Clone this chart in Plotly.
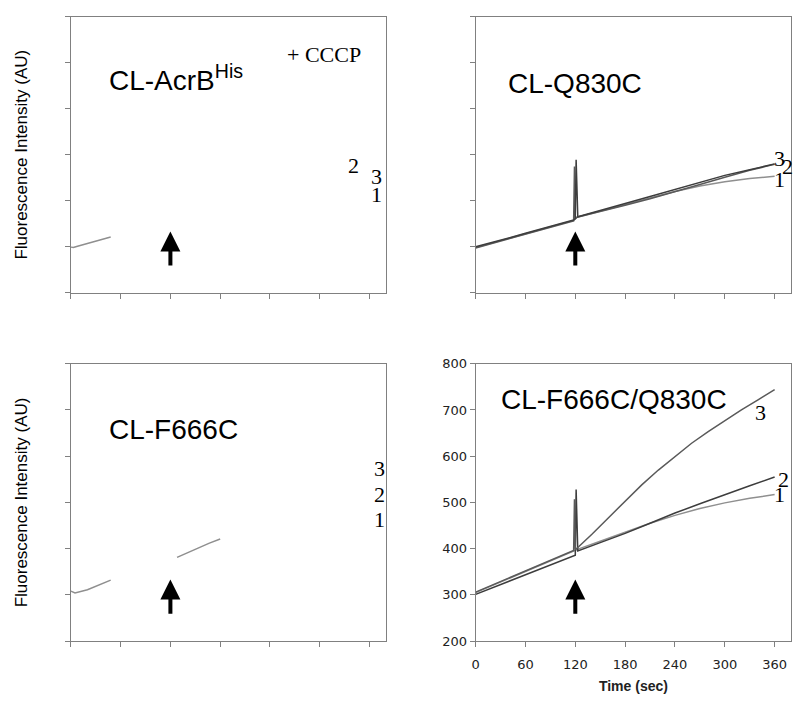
import plotly.graph_objects as go

# ---- data (time in sec, fluorescence in AU) ----
# CL-AcrBHis (top left): only the start of one trace is visible
acrb_t = [0, 3, 8, 20, 35, 48]
acrb_1 = [299, 298, 301, 307, 314, 321]

# CL-Q830C (top right)
q830_t1 = [0, 20, 40, 60, 80, 100, 118, 122, 150, 180, 210, 240, 270, 300, 330, 360]
q830_1 = [298, 308, 318, 328, 338, 348, 357, 364, 377, 392, 406, 420, 432, 441, 448, 453]
q830_t2 = [0, 20, 40, 60, 80, 100, 118, 119, 120, 122, 150, 180, 210, 240, 270, 300, 330, 360]
q830_2 = [297, 307, 317, 327, 337, 347, 356, 474, 360, 364, 376, 390, 404, 419, 435, 451, 466, 479]
q830_t3 = [0, 20, 40, 60, 80, 100, 118, 120, 121, 123, 150, 180, 210, 240, 270, 300, 330, 360]
q830_3 = [300, 309, 319, 329, 339, 349, 358, 361, 489, 365, 378, 394, 409, 424, 440, 455, 467, 480]

# CL-F666C (bottom left): two short visible pieces of one trace
f666_t = [0, 5, 20, 35, 48, None, 128, 140, 154, 167, 180]
f666_1 = [308, 304, 311, 322, 332, None, 381, 391, 401, 412, 421]

# CL-F666C/Q830C (bottom right)
dbl_t1 = [0, 20, 40, 60, 80, 100, 118, 125, 150, 180, 210, 240, 270, 300, 330, 360]
dbl_1 = [305, 320, 335, 350, 365, 380, 395, 400, 416, 436, 455, 472, 487, 499, 509, 517]
dbl_t2 = [0, 20, 40, 60, 80, 100, 118, 120, 121, 123, 150, 180, 210, 240, 270, 300, 330, 360]
dbl_2 = [301, 315, 329, 343, 357, 371, 384, 386, 528, 395, 413, 433, 455, 477, 497, 517, 536, 555]
dbl_t3 = [0, 20, 40, 60, 80, 100, 118, 119, 120, 124, 140, 160, 180, 200, 220,
          240, 260, 280, 300, 320, 340, 360]
dbl_3 = [306, 321, 337, 352, 367, 382, 396, 507, 398, 404, 431, 467, 503, 538, 570,
         600, 628, 653, 677, 700, 722, 744]

x_ticks = [0, 60, 120, 180, 240, 300, 360]
y_ticks = [200, 300, 400, 500, 600, 700, 800]

GREY1 = "#8f8f8f"
GREY2 = "#3d3d3d"
GREY3 = "#5a5a5a"
AXIS = "#808080"

fig = go.Figure()


def add_line(t, v, color, ax):
    fig.add_trace(go.Scatter(x=t, y=v, mode="lines", line=dict(color=color, width=1.5),
                             xaxis="x" + ax, yaxis="y" + ax, showlegend=False,
                             connectgaps=False, hoverinfo="skip"))


add_line(acrb_t, acrb_1, GREY1, "")
add_line(q830_t1, q830_1, GREY1, "2")
add_line(q830_t2, q830_2, GREY3, "2")
add_line(q830_t3, q830_3, GREY2, "2")
add_line(f666_t, f666_1, GREY1, "3")
add_line(dbl_t1, dbl_1, GREY1, "4")
add_line(dbl_t2, dbl_2, GREY2, "4")
add_line(dbl_t3, dbl_3, GREY3, "4")

# panel domains (paper fractions)
xl = [0.084, 0.48]
xr = [0.5925, 0.989]
yt = [0.586, 0.986]
yb = [0.081, 0.483]


def xaxis(dom, anchor, labels=False):
    return dict(domain=dom, anchor=anchor, range=[0, 380], tickvals=x_ticks,
                ticks="outside", ticklen=5, tickcolor=AXIS, showline=True, linecolor=AXIS,
                linewidth=1, mirror=True, showgrid=False, zeroline=False,
                showticklabels=labels, ticklabelstandoff=6,
                tickfont=dict(family="DejaVu Sans", size=13, color="#222"))


def yaxis(dom, anchor, labels=False):
    return dict(domain=dom, anchor=anchor, range=[200, 800], tickvals=y_ticks,
                ticks="outside", ticklen=5, tickcolor=AXIS, showline=True, linecolor=AXIS,
                linewidth=1, mirror=True, showgrid=False, zeroline=False,
                showticklabels=labels, tickfont=dict(family="DejaVu Sans", size=13, color="#222"))


fig.update_layout(
    width=800, height=705,
    margin=dict(l=0, r=0, t=0, b=0),
    paper_bgcolor="white", plot_bgcolor="white",
    xaxis=xaxis(xl, "y"), yaxis=yaxis(yt, "x"),
    xaxis2=xaxis(xr, "y2"), yaxis2=yaxis(yt, "x2"),
    xaxis3=xaxis(xl, "y3"), yaxis3=yaxis(yb, "x3"),
    xaxis4=xaxis(xr, "y4", True), yaxis4=yaxis(yb, "x4", True),
)
fig.layout.xaxis4.title = dict(text="<b>Time (sec)</b>",
                               font=dict(family="Liberation Sans", size=14, color="#222"), standoff=10)

ann = []
sans = dict(family="Liberation Sans", size=28, color="black")
serif = dict(family="Liberation Serif", size=22, color="black")

# panel names
for ax, x, y, txt in [("", 44, 666, "CL-AcrB<sup>His</sup>"), ("2", 37, 655, "CL-Q830C"),
                      ("3", 44, 657, "CL-F666C"), ("4", 28, 723, "CL-F666C/Q830C")]:
    ann.append(dict(xref="x" + ax, yref="y" + ax, x=x, y=y, text=txt, showarrow=False,
                    xanchor="left", yanchor="middle", font=sans))

ann.append(dict(xref="x", yref="y", x=258, y=717, text="+ CCCP", showarrow=False,
                xanchor="left", yanchor="middle", font=dict(family="Liberation Serif", size=22, color="black")))

# trace numbers
for ax, x, y, txt in [("", 341, 477, "2"), ("", 368, 453, "3"), ("", 368, 413, "1"),
                      ("2", 366, 491, "3"), ("2", 376, 474, "2"), ("2", 366, 445, "1"),
                      ("3", 372, 574, "3"), ("3", 372, 517, "2"), ("3", 372, 462, "1"),
                      ("4", 343, 694, "3"), ("4", 371, 550, "2"), ("4", 366, 518, "1")]:
    ann.append(dict(xref="x" + ax, yref="y" + ax, x=x, y=y, text=txt, showarrow=False,
                    xanchor="center", yanchor="middle", font=serif))

# CCCP addition arrows at 120 s
for ax in ["", "2", "3", "4"]:
    ann.append(dict(xref="x" + ax, yref="y" + ax, x=120, y=333, axref="x" + ax, ayref="y" + ax,
                    ax=120, ay=256, text="", showarrow=True, arrowhead=2, arrowsize=1.0,
                    arrowwidth=4, arrowcolor="black"))

# y axis titles
for yc in [(yt[0] + yt[1]) / 2, (yb[0] + yb[1]) / 2]:
    ann.append(dict(xref="paper", yref="paper", x=18 / 800, y=yc, text="Fluorescence Intensity (AU)",
                    textangle=-90, showarrow=False, xanchor="center", yanchor="middle",
                    font=dict(family="Liberation Sans", size=17, color="black")))

fig.update_layout(annotations=ann)

fig.write_html("out.html", config={"displayModeBar": False})

# drop the browser's default body margin so the figure sits at the page corner
with open("out.html", encoding="utf-8") as f:
    html = f.read()
html = html.replace("<body>", '<body style="margin:0;">', 1)
with open("out.html", "w", encoding="utf-8") as f:
    f.write(html)
